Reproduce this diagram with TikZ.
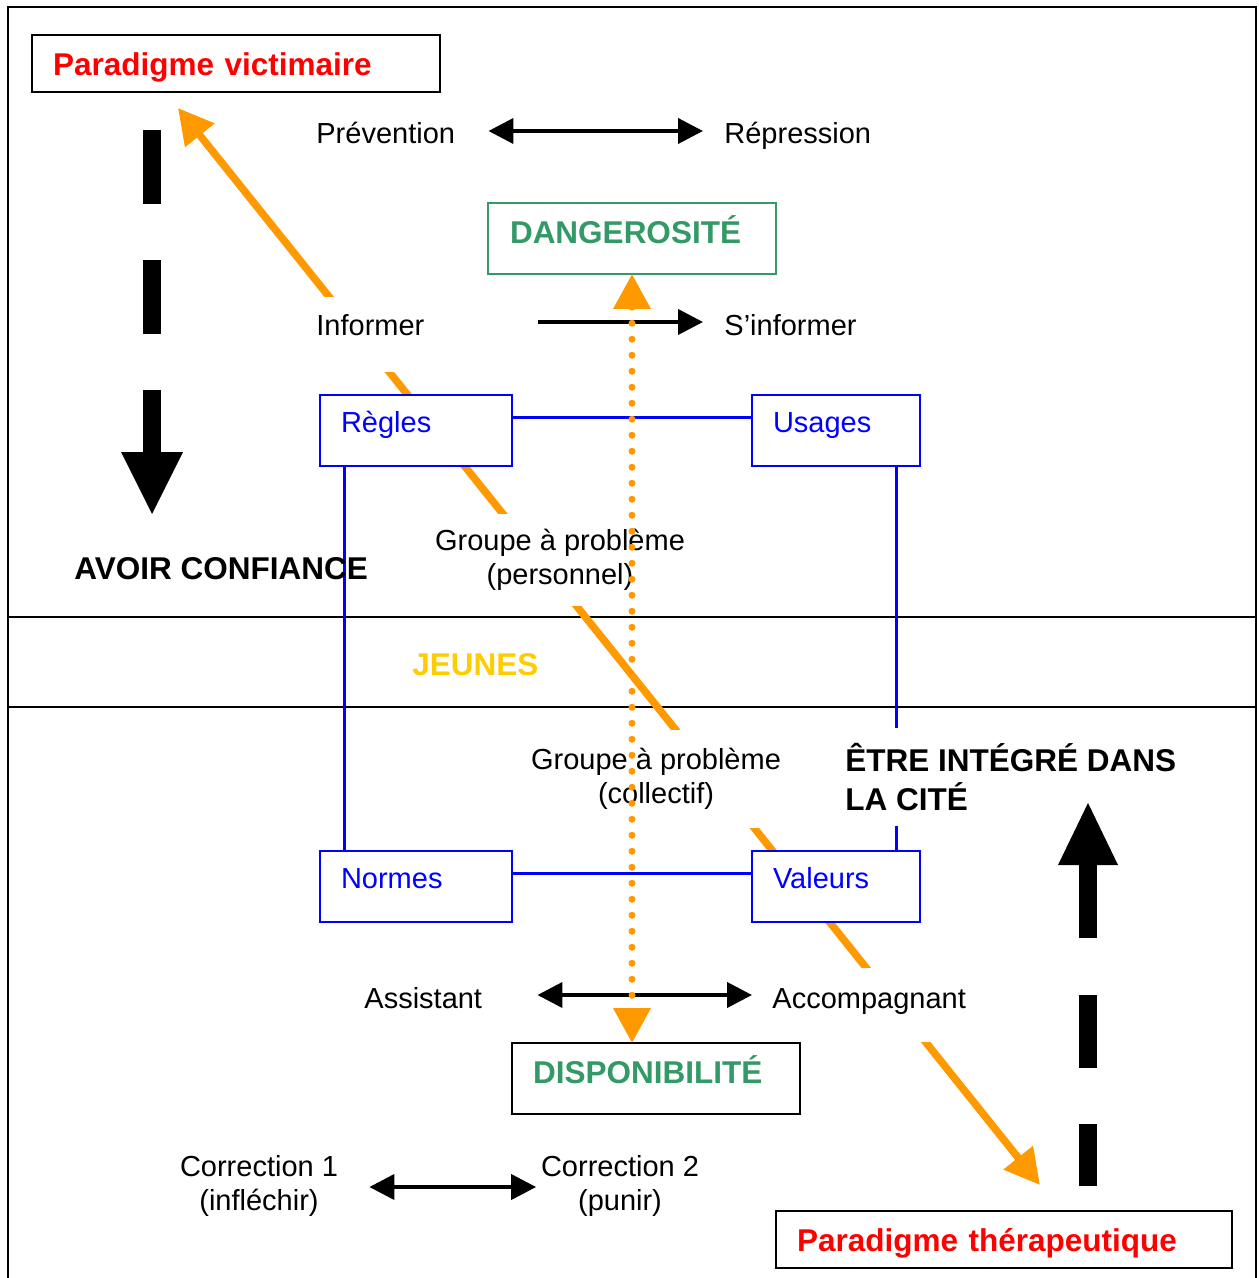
\documentclass[tikz,border=0pt]{standalone}
\usepackage{fontspec}
\setmainfont{Liberation Sans}
\usetikzlibrary{arrows.meta,calc}
\definecolor{rouge}{HTML}{FF0000}
\definecolor{vert}{HTML}{339966}
\definecolor{bleu}{HTML}{0000FF}
\definecolor{orangevif}{HTML}{FF9900}
\definecolor{jaune}{HTML}{FFCC00}
\newcommand{\txt}{\fontsize{14.5}{17}\selectfont}
\newcommand{\gras}{\fontsize{15.75}{19.5}\selectfont\bfseries}
\pgfdeclarelayer{fond}
\pgfsetlayers{fond,main}
\tikzset{
  mot/.style={font=\txt, inner sep=0pt, text height=10.4pt, text depth=0pt, anchor=west},
  titre/.style={font=\gras, inner sep=0pt, text height=11.3pt, text depth=0pt, anchor=west},
  cache/.style={fill=white, inner xsep=3pt, inner ysep=0pt},
  boite/.style={draw=bleu, text=bleu, fill=white, line width=1pt, font=\txt, anchor=north west, outer sep=0pt,
    inner xsep=10.5pt, inner ysep=0pt, text height=18.7pt, text depth=17pt, align=left},
  cadre/.style={draw, fill=white, line width=1.2pt, font=\gras, anchor=north west, outer sep=0pt,
    inner xsep=10.5pt, inner ysep=0pt, align=left},
  fleche/.style={line width=2pt, {Triangle[length=12.5pt,width=12.5pt]}-{Triangle[length=12.5pt,width=12.5pt]}},
  fleche1/.style={line width=2pt, -{Triangle[length=12.5pt,width=12.5pt]}},
  lien/.style={bleu, line width=1.5pt},
  fleo/.style={orangevif, line width=3.75pt, {Triangle[length=17.5pt,width=18pt]}-{Triangle[length=17.5pt,width=18pt]}}
}
\begin{document}
\begin{tikzpicture}[x=0.5pt, y=-0.5pt]
    \useasboundingbox (0,0) rectangle (1258,1278);

    % Paradigmes
    \node[cadre, text=rouge, text width=183pt, text height=20.2pt, text depth=8.3pt] (vict) at (32,35) {Paradigme victimaire};
    \node[cadre, text=rouge, text width=207pt, text height=20.2pt, text depth=8.3pt] (thera) at (776,1211) {Paradigme thérapeutique};

    % Pôles
    \node[cadre, draw=vert, text=vert, line width=1pt, inner xsep=11pt, text width=122pt, text height=20.15pt, text depth=15.35pt] (danger) at (488,203) {DANGEROSITÉ};
    \node[cadre, text=vert, text width=123pt, text height=20.15pt, text depth=15.35pt] (dispo) at (512,1043) {DISPONIBILITÉ};

    % Cadres bleus
    \node[boite, text width=75pt] (regles) at (320,395) {Règles};
    \node[boite, text width=63pt] (usages) at (752,395) {Usages};
    \node[boite, text width=75pt] (normes) at (320,851) {Normes};
    \node[boite, text width=63pt] (valeurs) at (752,851) {Valeurs};

    % Textes
    \node[mot] (prev) at (316,133) {Prévention};
    \node[mot] (repr) at (724,133) {Répression};
    \node[mot, cache, text height=19.25pt, text depth=18.25pt, anchor=base west] (inform) at (310,335.4) {Informer};
    \node[mot] (sinform) at (724,325) {S’informer};
    \node[titre] (avoir) at (74,568) {AVOIR CONFIANCE};
    \node[cache, font=\txt, align=center, minimum height=46pt] (gperso) at (560,560) {Groupe à problème\\(personnel)};
    \node[titre, text=jaune] (jeunes) at (412,664) {JEUNES};
    \node[cache, font=\txt, align=center, minimum height=49pt] (gcoll) at (656,778.5) {Groupe à problème\\(collectif)};
    \node[cache, font=\gras, align=left, minimum height=49pt, anchor=west] (etre) at (839,777) {ÊTRE INTÉGRÉ DANS\\LA CITÉ};
    \node[mot] (assist) at (364,998) {Assistant};
    \node[mot, cache, text height=20.2pt, text depth=16.6pt, anchor=base west] (accomp) at (766,1008.4) {Accompagnant};
    \node[font=\txt, align=center, inner sep=0pt] (corr1) at (259,1186) {Correction 1\\(infléchir)};
    \node[font=\txt, align=center, inner sep=0pt] (corr2) at (620,1186) {Correction 2\\(punir)};

    % Flèches noires
    \draw[fleche] ($(prev.east)+(33,-2)$) -- ($(repr.west)+(-21,-2)$);
    \draw[fleche1] ($(inform.east |- sinform.west)+(107,-3)$) -- ($(sinform.west)+(-21,-3)$);
    \draw[fleche] ($(assist.east)+(55,-3)$) -- ($(accomp.west |- assist.east)+(-14,-3)$);
    \draw[fleche] ($(corr1.east)+(31,1)$) -- ($(corr2.west)+(-4.5,1)$);

    % Fond : cadre, diagonale orange, liens bleus
    \coordinate (hautg) at (178,108);
    \coordinate (basd) at (1040,1185);
    \begin{pgfonlayer}{fond}
    \draw[line width=1pt] (7.5,1278) -- (7.5,7.5) -- (1255.5,7.5) -- (1255.5,1278);
    \draw[line width=1pt] (7.5,617) -- (1255.5,617);
    \draw[line width=1pt] (7.5,706.5) -- (1255.5,706.5);
    \draw[fleo] (hautg) -- (basd);
    \draw[lien] ([yshift=6.5pt]regles.east) -- ([yshift=6.5pt]usages.west);
    \draw[lien] ([yshift=6.5pt]normes.east) -- ([yshift=6.5pt]valeurs.west);
    \draw[lien] ([xshift=12pt]regles.south west) -- ([xshift=12pt]normes.north west);
    \draw[lien] ([xshift=-12pt]usages.south east) -- ([xshift=-12pt]valeurs.north east);
    \end{pgfonlayer}

    % Pointillé orange
    \draw[orangevif, line width=3.5pt, line cap=round, dash pattern=on 0pt off 8pt,
      {Triangle[length=17.5pt,width=18pt]}-{Triangle[length=17.5pt,width=18pt]}]
      (danger.south) -- (danger.south |- dispo.north);

    % Grandes flèches en tirets
    \fill (143,130) rectangle (161,204);
    \fill (143,260) rectangle (161,334);
    \fill (143,390) rectangle (161,453);
    \fill (121,452) -- (183,452) -- (152,514) -- cycle;
    \fill (1058,865) -- (1118,865) -- (1088,803) -- cycle;
    \fill (1079,864) rectangle (1097,938);
    \fill (1079,995) rectangle (1097,1068);
    \fill (1079,1124) rectangle (1097,1186);
\end{tikzpicture}
\end{document}
